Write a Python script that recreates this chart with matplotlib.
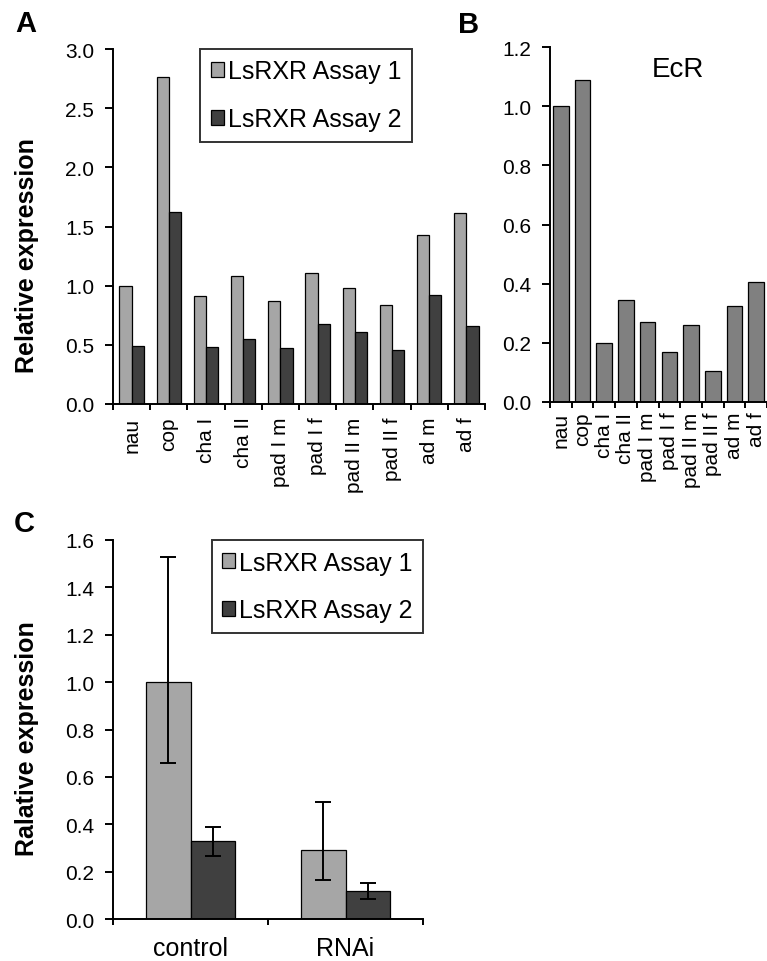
import matplotlib
matplotlib.use("Agg")
import matplotlib.pyplot as plt
import numpy as np
from matplotlib.patches import Patch

plt.rcParams['font.family'] = ['Liberation Sans', 'DejaVu Sans']

stages = ["nau", "cop", "cha I", "cha II", "pad I m", "pad I f", "pad II m", "pad II f", "ad m", "ad f"]
rxr_assay1 = [1.00, 2.76, 0.91, 1.08, 0.87, 1.11, 0.98, 0.84, 1.43, 1.61]
rxr_assay2 = [0.49, 1.62, 0.48, 0.55, 0.47, 0.68, 0.61, 0.46, 0.92, 0.66]
ecr = [1.00, 1.09, 0.20, 0.345, 0.27, 0.17, 0.26, 0.105, 0.325, 0.405]

treatments = ["control", "RNAi"]
c_assay1 = [1.00, 0.29]
c_assay1_lo = [0.66, 0.165]
c_assay1_hi = [1.53, 0.495]
c_assay2 = [0.33, 0.12]
c_assay2_lo = [0.265, 0.085]
c_assay2_hi = [0.39, 0.15]

series_names = ["LsRXR Assay 1", "LsRXR Assay 2"]

LIGHT = "#a6a6a6"
DARK = "#404040"
MID = "#808080"

W, H = 767, 962
fig = plt.figure(figsize=(W / 100, H / 100), dpi=100)


def ax_px(left, top, right, bottom):
    return fig.add_axes([left / W, 1 - bottom / H, (right - left) / W, (bottom - top) / H])


def style(ax, n):
    for s in ["top", "right"]:
        ax.spines[s].set_visible(False)
    for s in ["left", "bottom"]:
        ax.spines[s].set_linewidth(1.4)
    ax.set_xlim(-0.5, n - 0.5)
    ax.set_xticks(np.arange(n + 1) - 0.5)
    ax.set_xticklabels([])
    ax.set_xticks(np.arange(n), minor=True)
    ax.tick_params(axis="x", which="major", direction="out", length=4.5, width=1.4)
    ax.tick_params(axis="x", which="minor", length=0)
    ax.tick_params(axis="y", direction="out", length=5.5, width=1.4, labelsize=15, pad=8)
    ax.yaxis.set_major_formatter(matplotlib.ticker.FormatStrFormatter("%.1f"))


def legend(ax, handles, loc, anchor):
    leg = ax.legend(handles, series_names, loc=loc, bbox_to_anchor=anchor,
                    bbox_transform=fig.transFigure, borderaxespad=0, fontsize=18, frameon=True,
                    fancybox=False, edgecolor="black", handlelength=0.52, handleheight=0.52,
                    handletextpad=0.16, labelspacing=0.95, borderpad=0.42)
    leg.get_frame().set_linewidth(1.4)
    return leg


handles = [Patch(facecolor=LIGHT, edgecolor="black", linewidth=0.9),
           Patch(facecolor=DARK, edgecolor="black", linewidth=0.9)]

# Panel A
axA = ax_px(113, 50, 485, 405)
x = np.arange(len(stages))
bw = 0.33
axA.bar(x - bw / 2, rxr_assay1, bw, color=LIGHT, edgecolor="black", linewidth=0.9)
axA.bar(x + bw / 2, rxr_assay2, bw, color=DARK, edgecolor="black", linewidth=0.9)
style(axA, len(stages))
axA.set_ylim(0, 3.0)
axA.set_yticks(np.arange(0, 3.01, 0.5))
axA.set_xticklabels(stages, minor=True, rotation=90, fontsize=15)
axA.tick_params(axis="x", which="minor", pad=9)
legend(axA, handles, "upper left", (200 / W, 1 - 50 / H))
fig.text(27 / W, 1 - 256 / H, "Relative expression", rotation=90, fontsize=18,
         fontweight="bold", ha="center", va="center")

# Panel B
axB = ax_px(550, 48, 767, 403)
bwB = 0.72
axB.bar(x, ecr, bwB, color=MID, edgecolor="black", linewidth=0.9)
style(axB, len(stages))
axB.set_ylim(0, 1.2)
axB.set_yticks(np.arange(0, 1.21, 0.2))
axB.set_xticklabels(stages, minor=True, rotation=90, fontsize=15)
axB.tick_params(axis="x", which="minor", pad=7)
fig.text(678 / W, 1 - 70 / H, "EcR", ha="center", va="center", fontsize=20)

# Panel C
axC = ax_px(113, 541, 423, 920)
xc = np.arange(len(treatments))
bwC = 0.29
err1 = [np.array(c_assay1) - np.array(c_assay1_lo), np.array(c_assay1_hi) - np.array(c_assay1)]
err2 = [np.array(c_assay2) - np.array(c_assay2_lo), np.array(c_assay2_hi) - np.array(c_assay2)]
ekw = dict(ecolor="black", elinewidth=1.4, capsize=6, capthick=1.4)
axC.bar(xc - bwC / 2, c_assay1, bwC, color=LIGHT, edgecolor="black", linewidth=0.9,
        yerr=err1, error_kw=ekw)
axC.bar(xc + bwC / 2, c_assay2, bwC, color=DARK, edgecolor="black", linewidth=0.9,
        yerr=err2, error_kw=ekw)
style(axC, len(treatments))
axC.set_ylim(0, 1.6)
axC.set_yticks(np.arange(0, 1.61, 0.2))
axC.set_xticklabels(treatments, minor=True, fontsize=18)
axC.tick_params(axis="x", which="minor", pad=12)
legend(axC, handles, "upper right", (423 / W, 1 - 541 / H))
fig.text(27 / W, 1 - 739 / H, "Ralative expression", rotation=90, fontsize=18,
         fontweight="bold", ha="center", va="center")

# Panel letters
fig.text(15 / W, 1 - 24 / H, "A", fontsize=21, fontweight="bold", va="center", ha="left")
fig.text(458 / W, 1 - 25 / H, "B", fontsize=21, fontweight="bold", va="center", ha="left")
fig.text(14 / W, 1 - 524 / H, "C", fontsize=21, fontweight="bold", va="center", ha="left")

fig.savefig("out.png", dpi=100)
